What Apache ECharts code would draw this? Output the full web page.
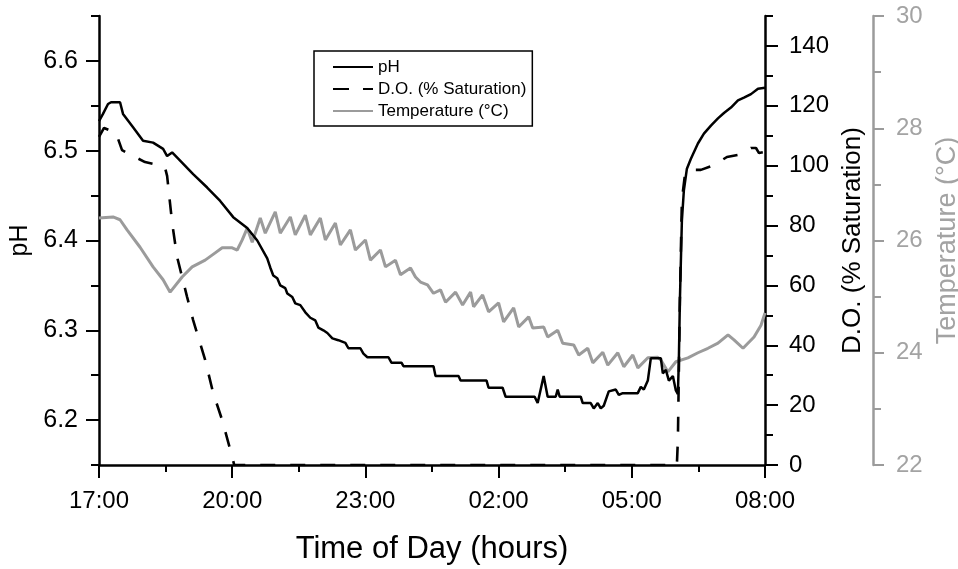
<!DOCTYPE html>
<html>
<head>
<meta charset="utf-8">
<script src="https://cdn.jsdelivr.net/npm/echarts@6/dist/echarts.min.js"></script>
<style>
html,body{margin:0;padding:0;background:#fff;overflow:hidden;}
#chart{width:958px;height:569px;}
</style>
</head>
<body>
<div id="chart"></div>
<script>
// Time in hours after 17:00
const xTickLabels = ['17:00','20:00','23:00','02:00','05:00','08:00'];
const pHTickValues = [6.2, 6.3, 6.4, 6.5, 6.6];
const doTickValues = [0, 20, 40, 60, 80, 100, 120, 140];
const tempTickValues = [22, 24, 26, 28, 30];

const phTime = [0,0.09,0.203,0.271,0.474,0.541,0.767,0.992,1.218,1.444,1.534,1.647,1.827,2.12,2.436,2.729,3.023,3.338,3.564,3.789,3.857,3.925,4.015,4.083,4.195,4.241,4.353,4.421,4.534,4.647,4.759,4.872,4.94,5.053,5.143,5.256,5.391,5.549,5.617,5.887,5.955,6.045,6.519,6.586,6.812,6.857,7.534,7.579,8.098,8.143,8.729,8.774,9.09,9.158,9.812,9.88,10.015,10.105,10.286,10.331,10.376,10.85,10.895,11.075,11.143,11.233,11.301,11.368,11.481,11.639,11.707,11.797,12.135,12.203,12.271,12.361,12.429,12.654,12.699,12.767,12.835,12.925,12.992,13.038,13.06,13.083,13.128,13.173,13.241,13.331,13.489,13.624,13.782,13.94,14.075,14.233,14.391,14.526,14.684,14.842,15.0];
const phValues = [6.533,6.541,6.552,6.554,6.554,6.541,6.526,6.511,6.509,6.502,6.494,6.498,6.489,6.474,6.459,6.444,6.426,6.414,6.40,6.38,6.37,6.361,6.358,6.35,6.347,6.341,6.337,6.33,6.328,6.32,6.314,6.311,6.303,6.30,6.297,6.291,6.289,6.286,6.28,6.28,6.274,6.27,6.27,6.264,6.264,6.26,6.26,6.249,6.249,6.244,6.244,6.236,6.236,6.226,6.226,6.219,6.249,6.226,6.226,6.234,6.226,6.226,6.219,6.219,6.213,6.219,6.213,6.216,6.232,6.234,6.228,6.23,6.23,6.237,6.234,6.244,6.269,6.269,6.252,6.256,6.244,6.249,6.233,6.229,6.267,6.333,6.422,6.456,6.48,6.491,6.508,6.519,6.528,6.536,6.542,6.548,6.556,6.559,6.563,6.569,6.57];

const doTime = [0,0.113,0.383,0.519,0.767,1.038,1.331,1.489,1.534,1.647,1.759,1.985,2.12,2.391,2.571,2.774,3.0,3.045,13.015,13.038,13.083,13.128,13.196,13.308,13.556,13.85,14.143,14.391,14.684,14.797,14.865,15.0];
const doValues = [109.6,112.6,110.9,105.2,103.2,101.2,100.2,99.2,96.6,80.9,69.5,56.1,48.4,35.1,24.1,15.0,2.7,0,0,8.4,55.1,88.5,96.9,98.6,98.6,100.2,102.9,103.6,105.9,105.9,104.2,104.6];

const tempTime = [0,0.316,0.474,0.632,0.925,1.218,1.444,1.602,1.872,2.098,2.391,2.617,2.775,3.0,3.113,3.226,3.339,3.451,3.632,3.745,3.970,4.083,4.309,4.421,4.647,4.760,4.985,5.098,5.324,5.436,5.662,5.775,6.0,6.113,6.339,6.452,6.677,6.790,7.016,7.128,7.241,7.399,7.534,7.692,7.805,8.031,8.189,8.369,8.437,8.64,8.775,9.0,9.113,9.339,9.452,9.677,9.768,10.016,10.106,10.331,10.444,10.692,10.805,11.008,11.121,11.347,11.459,11.685,11.820,12.023,12.136,12.362,12.587,12.655,12.813,12.993,13.264,13.49,13.715,13.941,14.167,14.302,14.505,14.753,14.910,15.0];
const tempValues = [26.40,26.42,26.37,26.19,25.88,25.53,25.30,25.08,25.35,25.53,25.65,25.78,25.87,25.87,25.83,26.01,26.22,25.97,26.40,26.13,26.51,26.13,26.42,26.10,26.45,26.10,26.40,26.01,26.31,25.92,26.19,25.83,26.01,25.65,25.83,25.53,25.65,25.39,25.51,25.35,25.26,25.21,25.06,25.12,24.90,25.08,24.85,25.08,24.82,25.03,24.73,24.89,24.55,24.80,24.46,24.64,24.44,24.46,24.28,24.40,24.17,24.14,23.96,24.08,23.82,24.01,23.78,24.00,23.75,23.96,23.73,23.91,23.92,23.87,23.66,23.84,23.91,24.00,24.08,24.17,24.32,24.23,24.08,24.28,24.49,24.71];

const pairs = (xs, ys) => xs.map((x, i) => [x, ys[i]]);

const FONT = 'Liberation Sans, Arial, Helvetica, sans-serif';
const BLACK = '#000000';
const GRAY = '#9b9b9b';
const GRAY_TXT = '#a3a3a3';

const chart = echarts.init(document.getElementById('chart'), null, {renderer: 'canvas'});

const option = {
  animation: false,
  backgroundColor: '#ffffff',
  textStyle: {fontFamily: FONT},
  grid: {left: 99, right: 193, top: 16, bottom: 104, containLabel: false, outerBoundsMode: 'none'},
  legend: {
    orient: 'vertical',
    left: 314, top: 51,
    itemWidth: 40, itemHeight: 14, itemGap: 4,
    padding: [7, 6, 6, 18],
    borderColor: BLACK, borderWidth: 1.5,
    itemStyle: {opacity: 0},
    textStyle: {fontSize: 17, color: BLACK, fontFamily: FONT, lineHeight: 18},
    data: [
      {name: 'pH'},
      {name: 'D.O. (% Saturation)', lineStyle: {type: [16, 14]}},
      {name: 'Temperature (°C)'}
    ]
  },
  xAxis: {
    type: 'value', min: 0, max: 15, interval: 3,
    axisLine: {show: true, onZero: false, lineStyle: {color: BLACK, width: 2.5}},
    axisTick: {show: true, inside: false, length: 13, lineStyle: {color: BLACK, width: 2}},
    minorTick: {show: true, splitNumber: 2, length: 7, lineStyle: {color: BLACK, width: 2}},
    axisLabel: {fontSize: 24, color: BLACK, margin: 24, fontFamily: FONT,
      formatter: v => xTickLabels[Math.round(v / 3)] || ''},
    splitLine: {show: false},
    name: 'Time of Day (hours)', nameLocation: 'middle', nameGap: 69,
    nameTextStyle: {fontSize: 31, color: BLACK, fontFamily: FONT}
  },
  yAxis: [
    {
      type: 'value', position: 'left', min: 6.15, max: 6.65, interval: 0.05,
      axisLine: {show: true, lineStyle: {color: BLACK, width: 2.5}},
      axisTick: {show: true, length: 13, customValues: pHTickValues, lineStyle: {color: BLACK, width: 2}},
      axisLabel: {fontSize: 25, color: BLACK, margin: 21, fontFamily: FONT, customValues: pHTickValues,
        formatter: v => v.toFixed(1)},
      splitLine: {show: false},
      name: 'pH', nameLocation: 'middle', nameGap: 64,
      nameTextStyle: {fontSize: 25, color: BLACK, fontFamily: FONT}
    },
    {
      type: 'value', position: 'right', min: 0, max: 150, interval: 10,
      axisLine: {show: true, lineStyle: {color: BLACK, width: 2.5}},
      axisTick: {show: true, length: 13, customValues: doTickValues, lineStyle: {color: BLACK, width: 2}},
      axisLabel: {fontSize: 24, color: BLACK, margin: 24, fontFamily: FONT, customValues: doTickValues},
      splitLine: {show: false},
      name: 'D.O. (% Saturation)', nameLocation: 'middle', nameGap: 68,
      nameTextStyle: {fontSize: 26, color: BLACK, fontFamily: FONT}
    },
    {
      type: 'value', position: 'right', offset: 108, min: 22, max: 30, interval: 2,
      axisLine: {show: true, lineStyle: {color: GRAY, width: 2.5}},
      axisTick: {show: true, length: 11, lineStyle: {color: GRAY, width: 2}},
      minorTick: {show: true, splitNumber: 2, length: 8, lineStyle: {color: GRAY, width: 2}},
      axisLabel: {fontSize: 24, color: GRAY_TXT, margin: 23, fontFamily: FONT, customValues: tempTickValues},
      splitLine: {show: false},
      name: 'Temperature (°C)', nameLocation: 'middle', nameGap: 52,
      nameTextStyle: {fontSize: 27, color: GRAY_TXT, fontFamily: FONT}
    },
    {
      type: 'value', position: 'left', min: 6.15, max: 6.65, interval: 0.05,
      axisLine: {show: false},
      axisTick: {show: true, length: 8, lineStyle: {color: BLACK, width: 2}},
      axisLabel: {show: false},
      splitLine: {show: false}
    },
    {
      type: 'value', position: 'right', min: 0, max: 150, interval: 10,
      axisLine: {show: false},
      axisTick: {show: true, length: 8, lineStyle: {color: BLACK, width: 2}},
      axisLabel: {show: false},
      splitLine: {show: false}
    }
  ],
  series: [
    {
      name: 'Temperature (°C)', type: 'line', yAxisIndex: 2,
      data: pairs(tempTime, tempValues),
      symbol: 'none', showSymbol: false, smooth: false,
      lineStyle: {color: GRAY, width: 3}, itemStyle: {color: GRAY}, z: 2
    },
    {
      name: 'D.O. (% Saturation)', type: 'line', yAxisIndex: 1,
      data: pairs(doTime, doValues),
      symbol: 'none', showSymbol: false, smooth: false,
      lineStyle: {color: BLACK, width: 2.6, type: [15, 15]}, itemStyle: {color: BLACK}, z: 3
    },
    {
      name: 'pH', type: 'line', yAxisIndex: 0,
      data: pairs(phTime, phValues),
      symbol: 'none', showSymbol: false, smooth: false,
      lineStyle: {color: BLACK, width: 2.5}, itemStyle: {color: BLACK}, z: 4
    }
  ]
};
chart.setOption(option);
</script>
</body>
</html>
